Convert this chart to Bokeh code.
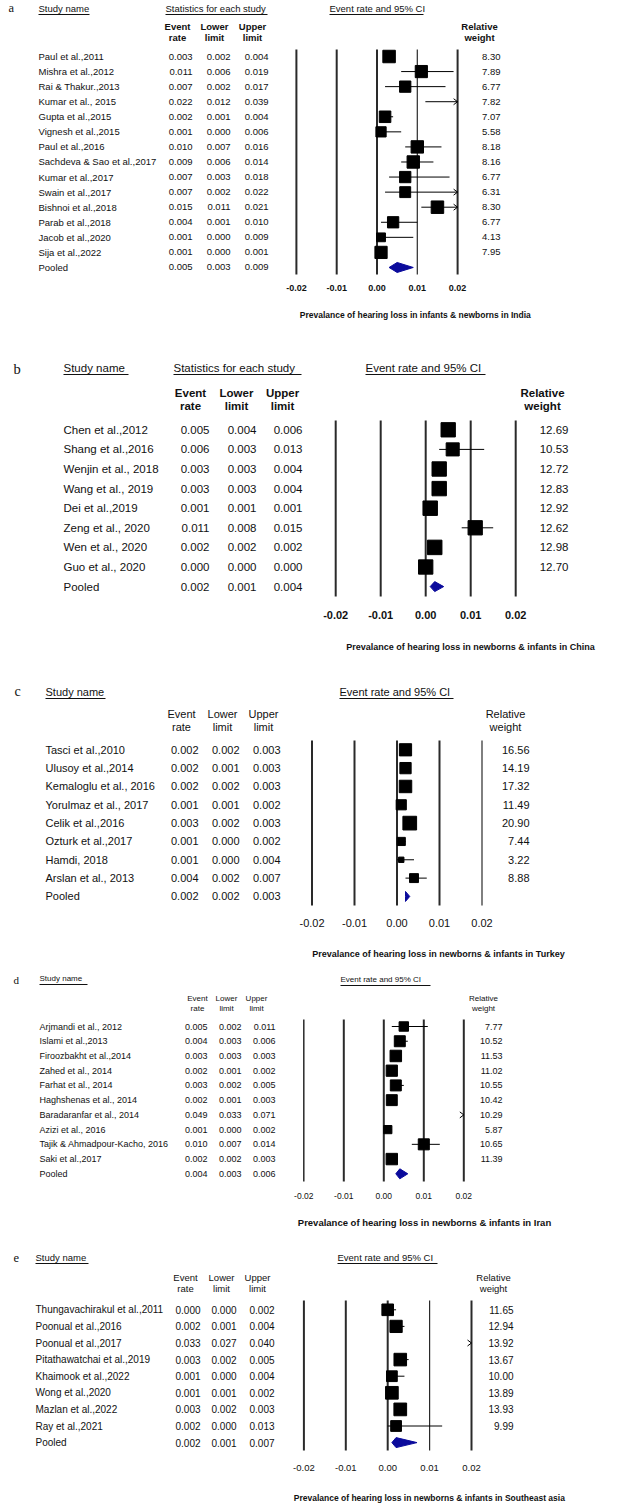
import numpy as np
from bokeh.plotting import figure
from bokeh.models import Range1d
from bokeh.layouts import column
from bokeh.core.properties import value
from bokeh.embed import file_html
from bokeh.resources import INLINE

# ---------------- data ----------------
ticks = [-0.02, -0.01, 0.0, 0.01, 0.02]
tick_labels = ["-0.02", "-0.01", "0.00", "0.01", "0.02"]

a_names = ["Paul et al.,2011", "Mishra et al.,2012", "Rai & Thakur.,2013", "Kumar et al., 2015",
           "Gupta et al.,2015", "Vignesh et al.,2015", "Paul et al.,2016", "Sachdeva & Sao et al.,2017",
           "Kumar et al.,2017", "Swain et al.,2017", "Bishnoi et al.,2018", "Parab et al.,2018",
           "Jacob et al.,2020", "Sija et al.,2022"]
a_rate = [0.003, 0.011, 0.007, 0.022, 0.002, 0.001, 0.010, 0.009, 0.007, 0.007, 0.015, 0.004, 0.001, 0.001]
a_lower = [0.002, 0.006, 0.002, 0.012, 0.001, 0.000, 0.007, 0.006, 0.003, 0.002, 0.011, 0.001, 0.000, 0.000]
a_upper = [0.004, 0.019, 0.017, 0.039, 0.004, 0.006, 0.016, 0.014, 0.018, 0.022, 0.021, 0.010, 0.009, 0.001]
a_weight = [8.30, 7.89, 6.77, 7.82, 7.07, 5.58, 8.18, 8.16, 6.77, 6.31, 8.30, 6.77, 4.13, 7.95]
a_pooled = [0.005, 0.003, 0.009]

b_names = ["Chen et al.,2012", "Shang et al.,2016", "Wenjin et al., 2018", "Wang et al., 2019",
           "Dei et  al.,2019", "Zeng et al., 2020", "Wen et al., 2020", "Guo et al., 2020"]
b_rate = [0.005, 0.006, 0.003, 0.003, 0.001, 0.011, 0.002, 0.000]
b_lower = [0.004, 0.003, 0.003, 0.003, 0.001, 0.008, 0.002, 0.000]
b_upper = [0.006, 0.013, 0.004, 0.004, 0.001, 0.015, 0.002, 0.000]
b_weight = [12.69, 10.53, 12.72, 12.83, 12.92, 12.62, 12.98, 12.70]
b_pooled = [0.002, 0.001, 0.004]

c_names = ["Tasci et al.,2010", "Ulusoy et al.,2014", "Kemaloglu et al., 2016", "Yorulmaz et al., 2017",
           "Celik et al.,2016", "Ozturk et al.,2017", "Hamdi, 2018", "Arslan et al., 2013"]
c_rate = [0.002, 0.002, 0.002, 0.001, 0.003, 0.001, 0.001, 0.004]
c_lower = [0.002, 0.001, 0.002, 0.001, 0.002, 0.000, 0.000, 0.002]
c_upper = [0.003, 0.003, 0.003, 0.002, 0.003, 0.002, 0.004, 0.007]
c_weight = [16.56, 14.19, 17.32, 11.49, 20.90, 7.44, 3.22, 8.88]
c_pooled = [0.002, 0.002, 0.003]

d_names = ["Arjmandi et al., 2012", "Islami et al.,2013", "Firoozbakht et al.,2014", "Zahed et al., 2014",
           "Farhat et al., 2014", "Haghshenas et al., 2014", "Baradaranfar et al., 2014", "Azizi et al., 2016",
           "Tajik & Ahmadpour-Kacho, 2016", "Saki et al.,2017"]
d_rate = [0.005, 0.004, 0.003, 0.002, 0.003, 0.002, 0.049, 0.001, 0.010, 0.002]
d_lower = [0.002, 0.003, 0.003, 0.001, 0.002, 0.001, 0.033, 0.000, 0.007, 0.002]
d_upper = [0.011, 0.006, 0.003, 0.002, 0.005, 0.003, 0.071, 0.002, 0.014, 0.003]
d_weight = [7.77, 10.52, 11.53, 11.02, 10.55, 10.42, 10.29, 5.87, 10.65, 11.39]
d_pooled = [0.004, 0.003, 0.006]

e_names = ["Thungavachirakul et al.,2011", "Poonual et al.,2016", "Poonual et al.,2017",
           "Pitathawatchai et al.,2019", "Khaimook et al.,2022", "Wong et al.,2020",
           "Mazlan et al.,2022", "Ray et al.,2021"]
e_rate = [0.000, 0.002, 0.033, 0.003, 0.001, 0.001, 0.003, 0.002]
e_lower = [0.000, 0.001, 0.027, 0.002, 0.000, 0.001, 0.002, 0.000]
e_upper = [0.002, 0.004, 0.040, 0.005, 0.004, 0.002, 0.003, 0.013]
e_weight = [11.65, 12.94, 13.92, 13.67, 10.00, 13.89, 13.93, 9.99]
e_pooled = [0.002, 0.001, 0.007]

titles = {
    "a": "Prevalance of hearing loss  in infants & newborns in India",
    "b": "Prevalance of hearing loss in newborns & infants in China",
    "c": "Prevalance of hearing loss in newborns & infants in Turkey",
    "d": "Prevalance of hearing loss in newborns & infants in Iran",
    "e": "Prevalance of hearing loss  in newborns & infants in Southeast asia",
}

SANS = value("Liberation Sans")
SERIF = value("Liberation Serif")
INK = "#111111"
DIAMOND = "#0b0b9c"
PAGE_W = 624

# ---------------- layout (reference pixel positions) ----------------
layouts = {
    "a": dict(top=0, bottom=335, zero=376.5, per=40.3, r0=56, dr=15.07, ltop=49, lbot=274,
              letter=(8, 7), sname=(38, 8, 89), stats=(165, 267), ci=(329, 423), hy=8, ul=6,
              hdr=(26, 37), hc=(177, 214, 252, 479), vr=(192, 230, 268, 500), fs=9.5, hfs=9.5,
              hbold=True, tick_y=287, tfs=9, tbold=True, title=(416, 314), titfs=8.5,
              lw=(2, 2, 2, 1.2, 2), smax=12.5),
    "b": dict(top=335, bottom=662, zero=425.2, per=45.0, r0=429.3, dr=19.6, ltop=420, lbot=596,
              letter=(13, 368), sname=(63, 367, 128), stats=(173, 301), ci=(365, 485), hy=367, ul=7,
              hdr=(392, 405), hc=(190, 236, 282, 542), vr=(209, 256, 302, 568), fs=11.5, hfs=11.5,
              hbold=True, tick_y=614, tfs=11, tbold=True, title=(470, 646), titfs=9,
              lw=(2, 2, 2, 2, 2), smax=14.5),
    "c": dict(top=662, bottom=968, zero=396.5, per=42.5, r0=749.3, dr=18.33, ltop=740, lbot=905,
              letter=(14, 691), sname=(45, 691, 105), stats=None, ci=(339, 453), hy=691, ul=7,
              hdr=(713, 726), hc=(181, 222, 263, 505), vr=(198, 239, 280, 529), fs=11, hfs=11,
              hbold=False, tick_y=922, tfs=11, tbold=False, title=(438, 953), titfs=9,
              lw=(2, 2, 2, 2, 1.2), smax=13.7),
    "d": dict(top=968, bottom=1245, zero=383.3, per=40.0, r0=1026, dr=14.73, ltop=1019, lbot=1181,
              letter=(13, 979), sname=(39, 978, 87), stats=None, ci=(340, 430), hy=979, ul=6,
              hdr=(998, 1008), hc=(197, 226, 256, 483), vr=(207, 241, 275, 502), fs=9, hfs=8,
              hbold=False, tick_y=1195, tfs=8.5, tbold=False, title=(424, 1222), titfs=9.5,
              lw=(1.5, 2, 2, 2, 2), smax=11.5),
    "e": dict(top=1245, bottom=1504, zero=387.2, per=41.9, r0=1309.3, dr=16.6, ltop=1300, lbot=1450,
              letter=(13, 1257), sname=(35, 1257, 88), stats=None, ci=(337, 437), hy=1257, ul=6,
              hdr=(1277, 1288), hc=(185, 221, 257, 493), vr=(200, 236, 274, 513), fs=10, hfs=9.5,
              hbold=False, tick_y=1467, tfs=9.5, tbold=False, title=(430, 1497), titfs=8.5,
              lw=(2, 2, 2, 1.2, 2), smax=12.7),
}


def make_panel(key, names, rate, lower, upper, weight, pooled):
    L = layouts[key]
    top, bottom = L["top"], L["bottom"]

    def X(px):
        return (px - L["zero"]) / L["per"] * 0.01

    def Y(py):
        return (py - L["r0"]) / L["dr"]

    p = figure(width=PAGE_W, height=bottom - top,
               x_range=Range1d(X(0), X(PAGE_W)), y_range=Range1d(Y(bottom), Y(top)),
               toolbar_location=None, output_backend="svg", min_border=0,
               x_axis_location=None, y_axis_location=None)
    p.grid.visible = False
    p.outline_line_color = None
    p.background_fill_color = "white"
    p.border_fill_color = "white"

    def txt(x, y, t, size, align="left", bold=False, font=SANS, color=INK):
        p.text(x=x, y=y, text=t, text_font=font, text_font_size=value(f"{size}px"),
               text_align=align, text_baseline="middle", text_color=color,
               text_font_style="bold" if bold else "normal")

    def uline(x0, x1, py):
        p.segment(x0=[X(x0)], y0=[Y(py)], x1=[X(x1)], y1=[Y(py)], line_color=INK, line_width=1)

    n = len(names)
    rows = list(range(n + 1))
    hfs, fs = L["hfs"], L["fs"]

    # panel letter and section headers
    lx, ly = L["letter"]
    txt([X(lx)], [Y(ly)], [key], hfs + 3, font=SERIF)
    sx, sy, sx1 = L["sname"]
    txt([X(sx)], [Y(sy)], ["Study name"], hfs)
    uline(sx, sx1, sy + L["ul"])
    if L["stats"] is not None:
        txt([X(L["stats"][0])], [Y(L["hy"])], ["Statistics for each study"], hfs)
        uline(L["stats"][0], L["stats"][1], L["hy"] + L["ul"])
    txt([X(L["ci"][0])], [Y(L["hy"])], ["Event rate and 95% CI"], hfs)
    uline(L["ci"][0], L["ci"][1], L["hy"] + L["ul"])

    # column headers
    h1, h2 = L["hdr"]
    hc = L["hc"]
    txt([X(c) for c in hc], [Y(h1)] * 4, ["Event", "Lower", "Upper", "Relative"], hfs,
        align="center", bold=L["hbold"])
    txt([X(c) for c in hc], [Y(h2)] * 4, ["rate", "limit", "limit", "weight"], hfs,
        align="center", bold=L["hbold"])

    # table body
    all_names = names + ["Pooled"]
    all_rate = rate + [pooled[0]]
    all_lower = lower + [pooled[1]]
    all_upper = upper + [pooled[2]]
    txt([X(sx)] * (n + 1), rows, all_names, fs)
    vr = L["vr"]
    txt([X(vr[0])] * (n + 1), rows, [f"{v:.3f}" for v in all_rate], fs, align="right")
    txt([X(vr[1])] * (n + 1), rows, [f"{v:.3f}" for v in all_lower], fs, align="right")
    txt([X(vr[2])] * (n + 1), rows, [f"{v:.3f}" for v in all_upper], fs, align="right")
    txt([X(vr[3])] * n, rows[:n], [f"{w:.2f}" for w in weight], fs, align="right")

    # vertical reference lines
    p.segment(x0=ticks, y0=[Y(L["ltop"])] * 5, x1=ticks, y1=[Y(L["lbot"])] * 5,
              line_color="#2a2a2a", line_width=list(L["lw"]))
    txt(ticks, [Y(L["tick_y"])] * 5, tick_labels, L["tfs"], align="center", bold=L["tbold"])

    # confidence intervals
    lo_lim, hi_lim = ticks[0], ticks[-1]
    cx0, cx1, cy = [], [], []
    arrows_x, arrows_y = [], []
    ax = 4 / L["per"] * 0.01
    ay = 3 / L["dr"]
    for i in range(n):
        lo = max(lower[i], lo_lim)
        hi = min(upper[i], hi_lim)
        if lo < hi:
            cx0.append(lo)
            cx1.append(hi)
            cy.append(i)
        if upper[i] > hi_lim:
            arrows_x.append([hi_lim - ax, hi_lim, hi_lim - ax])
            arrows_y.append([i - ay, i, i + ay])
    p.segment(x0=cx0, y0=cy, x1=cx1, y1=cy, line_color="black", line_width=1)
    if arrows_x:
        p.multi_line(xs=arrows_x, ys=arrows_y, line_color="black", line_width=1)

    # squares sized by weight
    wmax = max(weight)
    sq_x, sq_y, sq_s = [], [], []
    for i in range(n):
        if lo_lim <= rate[i] <= hi_lim:
            sq_x.append(rate[i])
            sq_y.append(i)
            sq_s.append(L["smax"] * np.sqrt(weight[i] / wmax))
    p.scatter(x=sq_x, y=sq_y, size=sq_s, marker="square", fill_color="black", line_color="black")

    # pooled diamond
    h = 5 / L["dr"]
    p.patch(x=[pooled[1], pooled[0], pooled[2], pooled[0]], y=[n, n - h, n, n + h],
            fill_color=DIAMOND, line_color=DIAMOND)

    # axis title
    tx, ty = L["title"]
    txt([X(tx)], [Y(ty)], [titles[key]], L["titfs"], align="center", bold=True)
    return p


panels = [
    make_panel("a", a_names, a_rate, a_lower, a_upper, a_weight, a_pooled),
    make_panel("b", b_names, b_rate, b_lower, b_upper, b_weight, b_pooled),
    make_panel("c", c_names, c_rate, c_lower, c_upper, c_weight, c_pooled),
    make_panel("d", d_names, d_rate, d_lower, d_upper, d_weight, d_pooled),
    make_panel("e", e_names, e_rate, e_lower, e_upper, e_weight, e_pooled),
]

layout = column(*panels, spacing=0)
open("out.html", "w").write(file_html(layout, INLINE))
